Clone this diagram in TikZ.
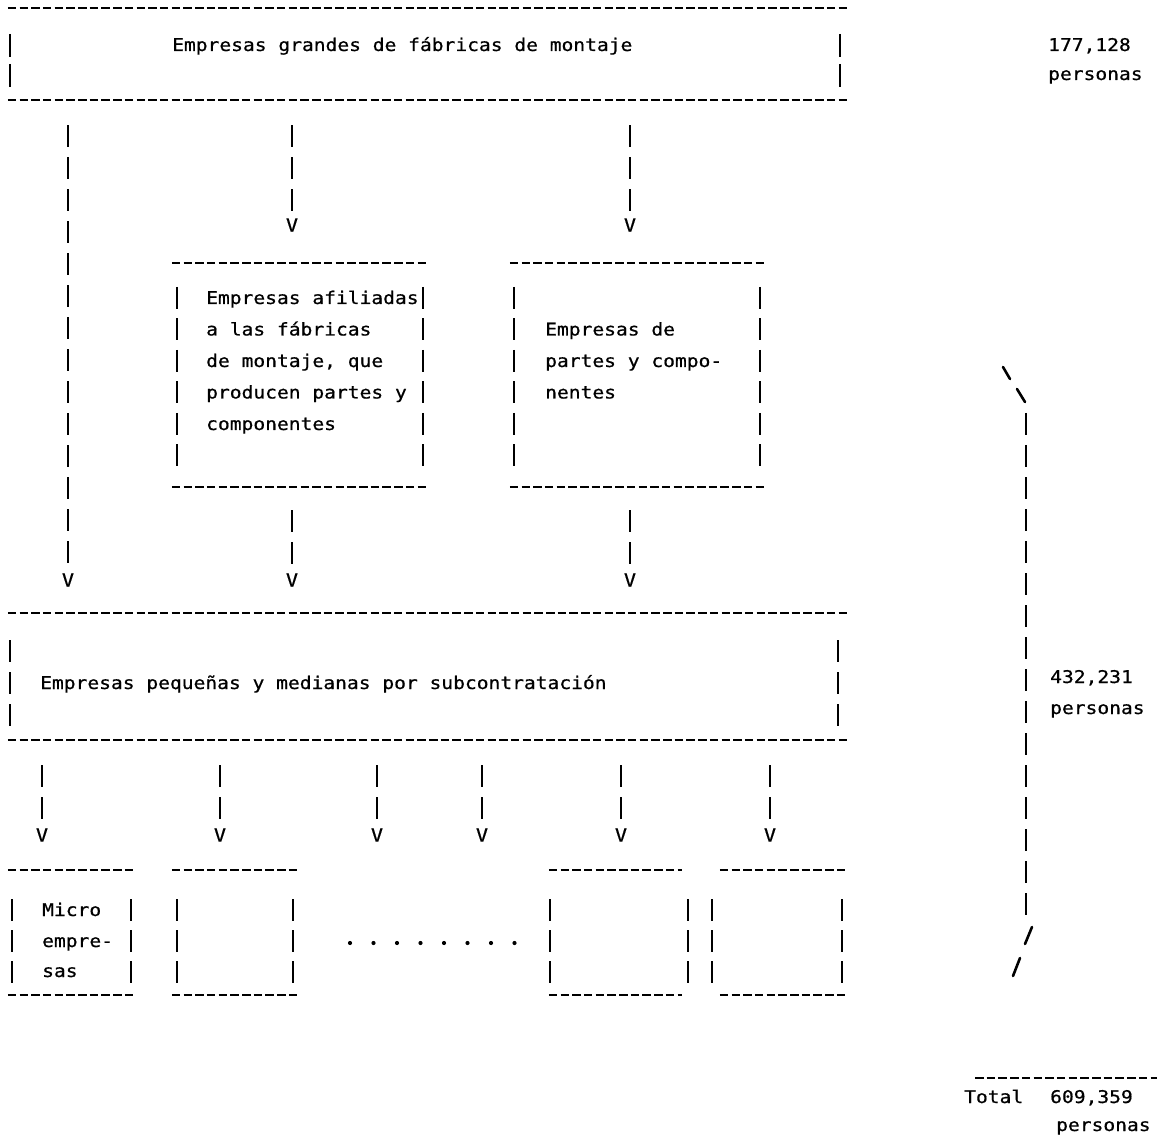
\documentclass[tikz,border=0pt]{standalone}
\usepackage{fontspec}
\newfontfamily\dm[FakeStretch=1.12,FakeBold=0.7]{DejaVu Sans Mono}
\usetikzlibrary{calc}
\begin{document}
\begin{tikzpicture}[x=1pt,y=-1pt,
  hl/.style={line width=2pt,dash pattern=on 8.5pt off 3.2pt},
  vl/.style={line width=2.6pt,dash pattern=on 22pt off 10pt},
  sl/.style={line width=2.6pt,line cap=round},
  txt/.style={font=\dm\fontsize{17.5}{20}\selectfont,inner sep=0pt,anchor=base west},
  tip/.style={font=\dm\fontsize{18}{20}\selectfont,inner sep=0pt,anchor=center},
  region/.style={draw=none,inner sep=0pt}]
\useasboundingbox[fill=white] (0,0) rectangle (1157,1139);

% ---------- invisible box regions ----------
\node[region,minimum width=840pt,minimum height=92pt] (big) at (428,54) {};
\node[region,minimum width=256pt,minimum height=224pt] (aff) at (300,375) {};
\node[region,minimum width=255pt,minimum height=224pt] (parts) at (637.5,375) {};
\node[region,minimum width=840pt,minimum height=127pt] (sub) at (428,676.5) {};
\node[region,minimum width=127pt,minimum height=125pt] (m1) at (71.5,932.5) {};
\node[region,minimum width=125pt,minimum height=125pt] (m2) at (234.5,932.5) {};
\node[region,minimum width=133pt,minimum height=125pt] (m5) at (615.5,932.5) {};
\node[region,minimum width=128pt,minimum height=125pt] (m6) at (784,932.5) {};

% ---------- box outlines (typed dashes and bars) ----------
\foreach \b in {big,aff,parts,sub,m1,m2,m5,m6}{
  \draw[hl] (\b.north west) -- (\b.north east) (\b.south west) -- (\b.south east);
}
\draw[vl,dash pattern=on 23pt off 7pt] (10,34) -- (10,88) (840,34) -- (840,88);
\draw[vl,dash pattern=on 22pt off 9.5pt] (177,287) -- (177,468) (423,287) -- (423,468);
\draw[vl,dash pattern=on 22pt off 9.5pt] (514,287) -- (514,468) (760,287) -- (760,468);
\draw[vl] (10,640) -- (10,726) (838,640) -- (838,726);
\draw[vl,dash pattern=on 22pt off 9pt] (12,899) -- (12,985) (131,899) -- (131,985);
\draw[vl,dash pattern=on 22pt off 9pt] (177,899) -- (177,985) (293,899) -- (293,985);
\draw[vl,dash pattern=on 22pt off 9pt] (550,899) -- (550,985) (688,899) -- (688,985);
\draw[vl,dash pattern=on 22pt off 9pt] (712,899) -- (712,985) (842,899) -- (842,985);

% ---------- texts ----------
\node[txt] (tbig) at (172,51) {Empresas grandes de fábricas de montaje};
\node[txt] (af1) at (206,304) {Empresas afiliadas};
\node[txt] (af2) at (206,335.5) {a las fábricas};
\node[txt] (af3) at (206,367) {de montaje, que};
\node[txt] (af4) at (206,398.5) {producen partes y};
\node[txt] (af5) at (206,430) {componentes};
\node[txt] (pa1) at (545,335.5) {Empresas de};
\node[txt] (pa2) at (545,367) {partes y compo-};
\node[txt] (pa3) at (545,398.5) {nentes};
\node[txt] (tsub) at (40,689) {Empresas pequeñas y medianas por subcontratación};
\node[txt] (mi1) at (42,916) {Micro};
\node[txt] (mi2) at (42,947) {empre-};
\node[txt] (mi3) at (42,977) {sas};

\node[txt] (n1) at (1048,51) {177,128};
\node[txt] (p1) at (1048,80) {personas};
\node[txt] (n2) at (1050,683) {432,231};
\node[txt] (p2) at (1050,714) {personas};
\node[txt] (tot) at (964,1103) {Total};
\node[txt] (n3) at (1050,1103) {609,359};
\node[txt] (p3) at (1056,1131) {personas};

% ---------- arrow heads (typed V) ----------
\node[tip] (v1) at (68,580) {V};
\node[tip] (v2) at (292,225) {V};
\node[tip] (v3) at (630,225) {V};
\node[tip] (v4) at (292,580) {V};
\node[tip] (v5) at (630,580) {V};
\node[tip] (w1) at (42,835) {V};
\node[tip] (w2) at (220,835) {V};
\node[tip] (w3) at (377,835) {V};
\node[tip] (w4) at (482,835) {V};
\node[tip] (w5) at (621,835) {V};
\node[tip] (w6) at (770,835) {V};

% ---------- connectors ----------
\draw[vl] ([yshift=-25pt]v1 |- big.south) -- ([yshift=4pt]v1.north);
\draw[vl] ([yshift=-25pt]v2 |- big.south) -- ([yshift=4pt]v2.north);
\draw[vl] ([yshift=-25pt]v3 |- big.south) -- ([yshift=4pt]v3.north);
\draw[vl] ([yshift=-23pt]v4 |- aff.south) -- ([yshift=4pt]v4.north);
\draw[vl] ([yshift=-23pt]v5 |- parts.south) -- ([yshift=4pt]v5.north);
\foreach \w in {w1,w2,w3,w4,w5,w6}{
  \draw[vl] ([yshift=-25pt]\w |- sub.south) -- ([yshift=6pt]\w.north);
}

% ---------- dots between small boxes ----------
\foreach \i in {0,...,7}{
  \fill (350+23.5*\i,943) circle (2.1pt);
}

% ---------- bracket for 432,231 ----------
\coordinate (b1) at (1003,367);
\coordinate (b2) at (1010,379);
\coordinate (b3) at (1017,389);
\coordinate (b4) at (1025,402);
\coordinate (b5) at (1026,413);
\coordinate (b6) at (1026,917);
\coordinate (b7) at (1032,927);
\coordinate (b8) at (1025,944);
\coordinate (b9) at (1020,958);
\coordinate (b10) at (1013,976);
\draw[sl] (b1) -- (b2) (b3) -- (b4) (b7) -- (b8) (b9) -- (b10);
\draw[vl] (b5) -- (b6);

% ---------- total rule ----------
\coordinate (t1) at (975,1078);
\coordinate (t2) at (1157,1078);
\draw[hl] (t1) -- (t2);
\end{tikzpicture}
\end{document}
